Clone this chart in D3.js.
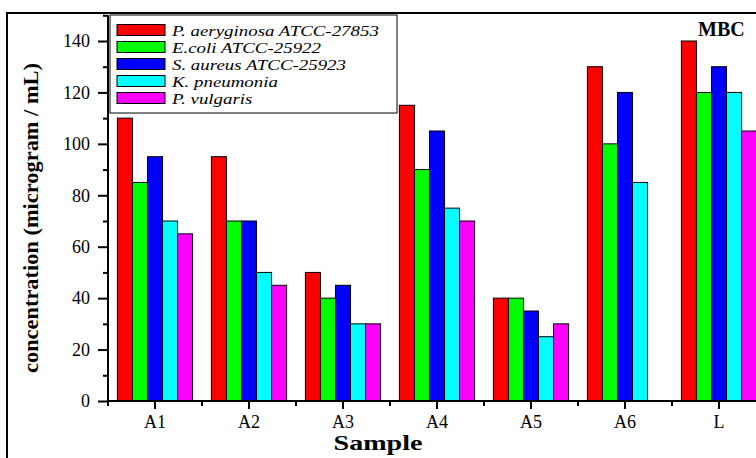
<!DOCTYPE html>
<html>
<head>
<meta charset="utf-8">
<script src="https://cdn.jsdelivr.net/npm/d3@7"></script>
<style>
  body { margin: 0; background: #fff; }
  svg { display: block; }
</style>
</head>
<body>
<div id="chart"></div>
<script>
// data
const samples = ['A1', 'A2', 'A3', 'A4', 'A5', 'A6', 'L'];
const seriesNames = ['P. aeryginosa ATCC-27853', 'E.coli ATCC-25922', 'S. aureus ATCC-25923', 'K. pneumonia', 'P. vulgaris'];
const seriesColors = ['#ff0000', '#00ff00', '#0000ff', '#00ffff', '#ff00ff'];
const pAeruginosa = [110, 95, 50, 115, 40, 130, 140];
const eColi = [85, 70, 40, 90, 40, 100, 120];
const sAureus = [95, 70, 45, 105, 35, 120, 130];
const kPneumonia = [70, 50, 30, 75, 25, 85, 120];
const pVulgaris = [65, 45, 30, 70, 30, null, 105];
const yTicks = [0, 20, 40, 60, 80, 100, 120, 140];

const FONT = '"Liberation Serif"';
const width = 756, height = 458;
const plot = { left: 108, top: 15, bottom: 401, step: 94 };

const svg = d3.select('#chart').append('svg')
  .attr('width', width)
  .attr('height', height);

// outer frame (cropped at right and bottom in the original)
svg.append('rect')
  .attr('x', 7).attr('y', 13)
  .attr('width', 900).attr('height', 600)
  .attr('fill', 'none')
  .attr('stroke', '#000')
  .attr('stroke-width', 2);

const x0 = d3.scaleBand()
  .domain(samples)
  .range([plot.left, plot.left + plot.step * samples.length])
  .paddingInner(0.2)
  .paddingOuter(0.1);

const x1 = d3.scaleBand()
  .domain(seriesNames)
  .range([0, x0.bandwidth()]);

const y = d3.scaleLinear()
  .domain([0, 150])
  .range([plot.bottom, plot.bottom - 150 * 360 / 140]);

const allSeries = [pAeruginosa, eColi, sAureus, kPneumonia, pVulgaris];
const rows = samples.map((s, i) => ({
  sample: s,
  values: seriesNames.map((n, j) => ({ name: n, color: seriesColors[j], value: allSeries[j][i] }))
}));

// bars
const groups = svg.append('g').selectAll('g')
  .data(rows)
  .enter()
  .append('g')
  .attr('transform', d => `translate(${x0(d.sample)},0)`);

groups.selectAll('rect')
  .data(d => d.values.filter(v => v.value != null))
  .enter()
  .append('rect')
  .attr('x', d => x1(d.name))
  .attr('y', d => y(d.value))
  .attr('width', x1.bandwidth())
  .attr('height', d => y(0) - y(d.value))
  .attr('fill', d => d.color)
  .attr('stroke', '#000')
  .attr('stroke-width', 1);

// y axis
const yAxis = svg.append('g')
  .attr('transform', `translate(${plot.left},0)`);

yAxis.append('g')
  .call(d3.axisLeft(y).tickValues(d3.range(10, 151, 20)).tickSize(5).tickFormat(''))
  .call(g => g.select('.domain').remove());

const yLabels = yAxis.append('g')
  .call(d3.axisLeft(y).tickValues(yTicks).tickSize(10).tickPadding(8))
  .call(g => g.select('.domain').remove());
yLabels.attr('font-family', null).attr('font-size', null);
yLabels.selectAll('text')
  .style('font-family', FONT)
  .style('font-size', '18px');

yAxis.selectAll('line').attr('stroke-width', 2);

yAxis.append('line')
  .attr('x1', 0).attr('x2', 0)
  .attr('y1', y(150)).attr('y2', plot.bottom)
  .attr('stroke', '#000')
  .attr('stroke-width', 2);

// x axis
const xAxis = svg.append('g')
  .attr('transform', `translate(0,${plot.bottom})`);

const boundaries = samples.map((s, i) => plot.left + plot.step * i);
xAxis.selectAll('.minor')
  .data(boundaries)
  .enter()
  .append('line')
  .attr('class', 'minor')
  .attr('x1', d => d).attr('x2', d => d)
  .attr('y1', 0).attr('y2', 5)
  .attr('stroke', '#000')
  .attr('stroke-width', 2);

const xLabels = xAxis.append('g')
  .call(d3.axisBottom(x0).tickSize(8).tickPadding(6))
  .call(g => g.select('.domain').remove())
  .call(g => g.selectAll('line').attr('stroke-width', 2));
xLabels.attr('font-family', null).attr('font-size', null);
xLabels.selectAll('text')
  .style('font-family', FONT)
  .style('font-size', '18px');

xAxis.append('line')
  .attr('x1', plot.left - 1).attr('x2', plot.left + plot.step * samples.length)
  .attr('y1', 0).attr('y2', 0)
  .attr('stroke', '#000')
  .attr('stroke-width', 2);

// axis titles
svg.append('text')
  .attr('x', 378)
  .attr('y', 450)
  .attr('text-anchor', 'middle')
  .style('font-family', FONT)
  .style('font-size', '21px')
  .style('font-weight', 'bold')
  .attr('textLength', 89)
  .attr('lengthAdjust', 'spacingAndGlyphs')
  .text('Sample');

svg.append('text')
  .attr('transform', 'translate(38,218) rotate(-90)')
  .attr('text-anchor', 'middle')
  .style('font-family', FONT)
  .style('font-size', '22px')
  .style('font-weight', 'bold')
  .attr('textLength', 310)
  .attr('lengthAdjust', 'spacingAndGlyphs')
  .text('concentration (microgram / mL)');

svg.append('text')
  .attr('x', 698)
  .attr('y', 36)
  .style('font-family', FONT)
  .style('font-size', '20px')
  .style('font-weight', 'bold')
  .text('MBC');

// legend
const legend = svg.append('g')
  .attr('transform', 'translate(110,15)');

legend.append('rect')
  .attr('width', 287)
  .attr('height', 98)
  .attr('fill', '#fff')
  .attr('stroke', '#000')
  .attr('stroke-width', 1);

const items = legend.selectAll('.item')
  .data(seriesNames.map((n, i) => ({ name: n, color: seriesColors[i] })))
  .enter()
  .append('g')
  .attr('class', 'item')
  .attr('transform', (d, i) => `translate(7,${9.5 + i * 17})`);

items.append('rect')
  .attr('width', 48)
  .attr('height', 11)
  .attr('fill', d => d.color)
  .attr('stroke', '#000')
  .attr('stroke-width', 1);

items.append('text')
  .attr('x', 55)
  .attr('y', 11)
  .style('font-family', FONT)
  .style('font-size', '15px')
  .style('font-style', 'italic')
  .attr('transform', 'translate(55,0) scale(1.26,1) translate(-55,0)')
  .text(d => d.name);
</script>
</body>
</html>
